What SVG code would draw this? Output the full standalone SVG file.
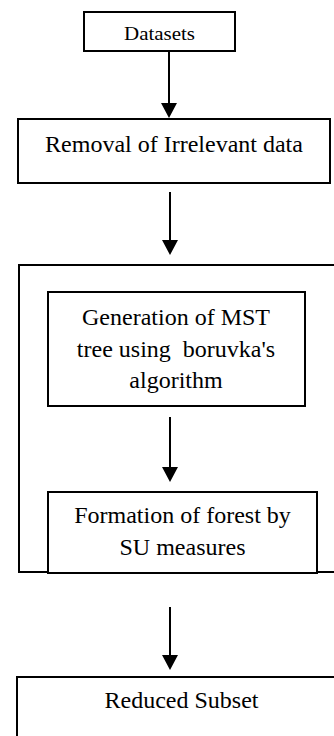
<svg xmlns="http://www.w3.org/2000/svg" width="334" height="736" viewBox="0 0 334 736">
<style>
.box{fill:#fff;stroke:#000;stroke-width:2}
.t{font-family:'Liberation Serif','Times New Roman',serif;font-size:24px;fill:#000;text-anchor:middle}
.small{font-size:18px}
.c{stroke:#000;stroke-width:2;fill:none}
</style>
<defs>
<marker id="ah" markerUnits="userSpaceOnUse" markerWidth="16" markerHeight="16" viewBox="0 0 15 16" refX="0" refY="8" orient="auto">
<path d="M0,0 L15,8 L0,16 z" fill="#000"/>
</marker>
</defs>
<g id="container">
<path class="c" d="M340,265 H19 V572 H340"/>
</g>
<g id="datasets">
<rect class="box" x="84" y="12" width="151" height="39"/>
<text class="t small" x="159.5" y="40" textLength="71" lengthAdjust="spacingAndGlyphs">Datasets</text>
</g>
<g id="removal">
<rect class="box" x="18" y="119" width="312" height="64"/>
<text class="t" x="174" y="152">Removal of Irrelevant data</text>
</g>
<g id="generation">
<rect class="box" x="48" y="292" width="257" height="114"/>
<text class="t" x="176" y="325">Generation of MST</text>
<text class="t" x="176" y="357" xml:space="preserve">tree using  boruvka's</text>
<text class="t" x="176" y="388">algorithm</text>
</g>
<g id="formation">
<rect class="box" x="48" y="492" width="269" height="81"/>
<text class="t" x="182.5" y="523">Formation of forest by</text>
<text class="t" x="182.5" y="555">SU measures</text>
</g>
<g id="reduced">
<rect class="box" x="17" y="677" width="330" height="70"/>
<text class="t" x="181.5" y="708">Reduced Subset</text>
</g>
<g id="connectors">
<line class="c" x1="169" y1="51" x2="169" y2="103" marker-end="url(#ah)"/>
<line class="c" x1="170" y1="192" x2="170" y2="240" marker-end="url(#ah)"/>
<line class="c" x1="170" y1="417" x2="170" y2="467" marker-end="url(#ah)"/>
<line class="c" x1="170" y1="607" x2="170" y2="655" marker-end="url(#ah)"/>
</g>
</svg>
